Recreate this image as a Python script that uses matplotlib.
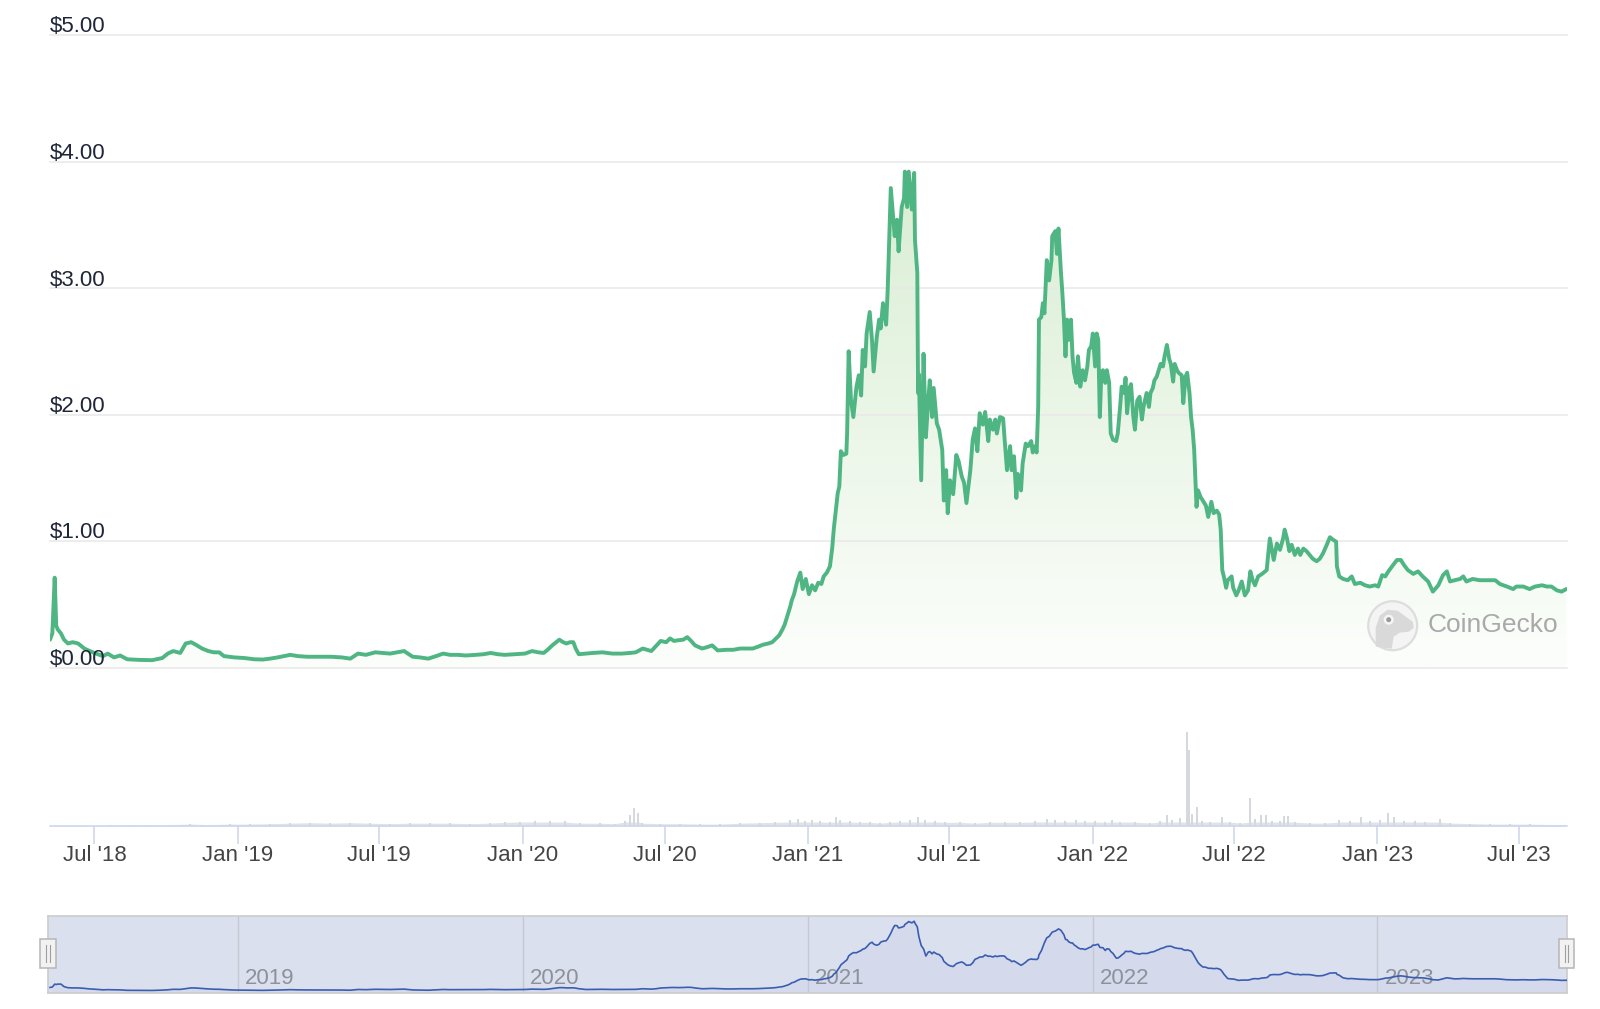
import numpy as np
import pandas as pd
import matplotlib
matplotlib.use("Agg")
import matplotlib.pyplot as plt
import matplotlib.dates as mdates
from matplotlib.patches import Circle, Rectangle, Polygon
from matplotlib.colors import LinearSegmentedColormap
from matplotlib.transforms import Affine2D, blended_transform_factory, offset_copy

plt.rcParams['font.family'] = ['Liberation Sans', 'DejaVu Sans']

# ---------------- data ----------------
start_date = "2018-05-05"
view_end_day = 1945

price_day = [
    0, 3, 6, 8, 10, 14, 18, 23, 29, 36,
    44, 51, 59, 68, 74, 82, 90, 99, 115, 131,
    144, 151, 158, 167, 174, 181, 187, 195, 203, 210,
    217, 223, 236, 249, 262, 273, 282, 292, 308, 318,
    330, 346, 360, 374, 385, 395, 405, 417, 427, 436,
    445, 454, 465, 474, 485, 495, 504, 513, 523, 533,
    546, 556, 565, 574, 583, 596, 609, 618, 626, 633,
    638, 644, 649, 653, 658, 662, 667, 671, 674, 678,
    687, 696, 708, 721, 733, 744, 751, 760, 771, 777,
    783, 790, 795, 800, 805, 812, 817, 822, 827, 836,
    842, 849, 856, 867, 876, 885, 894, 901, 908, 914,
    921, 926, 931, 935, 939, 942, 946, 949, 951, 954,
    958, 962, 965, 969, 973, 977, 981, 985, 989, 992,
    996, 1000, 1003, 1005, 1008, 1010, 1012, 1014, 1017, 1021,
    1022, 1024, 1027, 1030, 1034, 1037, 1040, 1042, 1045, 1047,
    1051, 1054, 1056, 1060, 1063, 1065, 1068, 1072, 1074, 1078,
    1081, 1083, 1086, 1088, 1092, 1095, 1096, 1099, 1101, 1105,
    1108, 1109, 1112, 1113, 1114, 1117, 1120, 1123, 1126, 1128,
    1131, 1133, 1137, 1140, 1144, 1146, 1149, 1151, 1154, 1158,
    1162, 1165, 1169, 1172, 1175, 1180, 1183, 1186, 1189, 1192,
    1196, 1199, 1203, 1205, 1209, 1212, 1214, 1218, 1222, 1224,
    1227, 1231, 1233, 1236, 1239, 1241, 1245, 1247, 1251, 1254,
    1258, 1260, 1263, 1265, 1267, 1268, 1271, 1273, 1275, 1278,
    1281, 1284, 1285, 1289, 1291, 1293, 1296, 1298, 1300, 1302,
    1304, 1306, 1309, 1311, 1313, 1316, 1318, 1321, 1324, 1327,
    1330, 1332, 1335, 1337, 1340, 1342, 1344, 1346, 1348, 1350,
    1353, 1355, 1358, 1360, 1363, 1367, 1369, 1372, 1374, 1377,
    1379, 1381, 1384, 1386, 1389, 1391, 1394, 1397, 1400, 1402,
    1406, 1409, 1411, 1414, 1416, 1419, 1422, 1424, 1427, 1429,
    1432, 1435, 1437, 1440, 1442, 1445, 1447, 1451, 1453, 1456,
    1458, 1461, 1463, 1465, 1467, 1470, 1472, 1475, 1478, 1482,
    1485, 1489, 1492, 1496, 1499, 1501, 1503, 1505, 1508, 1510,
    1515, 1517, 1521, 1524, 1528, 1532, 1536, 1539, 1542, 1545,
    1549, 1554, 1560, 1562, 1564, 1569, 1573, 1577, 1581, 1583,
    1586, 1589, 1592, 1596, 1600, 1603, 1607, 1611, 1615, 1619,
    1624, 1628, 1632, 1637, 1641, 1645, 1649, 1650, 1653, 1658,
    1664, 1669, 1673, 1680, 1686, 1692, 1699, 1703, 1708, 1712,
    1716, 1722, 1727, 1732, 1736, 1741, 1748, 1754, 1760, 1767,
    1773, 1780, 1786, 1791, 1795, 1801, 1808, 1812, 1816, 1824,
    1833, 1842, 1853, 1859, 1868, 1876, 1880, 1889, 1897, 1904,
    1913, 1919, 1925, 1932, 1938, 1944,
]

price_usd = [
    0.22, 0.27, 0.71, 0.33, 0.30, 0.27, 0.22, 0.19, 0.20, 0.19,
    0.15, 0.13, 0.11, 0.09, 0.11, 0.08, 0.095, 0.065, 0.06, 0.058,
    0.075, 0.11, 0.13, 0.115, 0.19, 0.20, 0.18, 0.15, 0.13, 0.12,
    0.12, 0.09, 0.08, 0.075, 0.065, 0.063, 0.07, 0.08, 0.10, 0.09,
    0.085, 0.085, 0.085, 0.08, 0.07, 0.11, 0.10, 0.12, 0.115, 0.11,
    0.12, 0.13, 0.085, 0.08, 0.07, 0.09, 0.11, 0.10, 0.10, 0.095,
    0.10, 0.105, 0.115, 0.105, 0.10, 0.105, 0.11, 0.13, 0.12, 0.115,
    0.14, 0.175, 0.20, 0.22, 0.20, 0.19, 0.20, 0.20, 0.15, 0.105,
    0.11, 0.115, 0.12, 0.11, 0.11, 0.115, 0.12, 0.15, 0.13, 0.17,
    0.21, 0.20, 0.23, 0.21, 0.215, 0.22, 0.24, 0.21, 0.175, 0.15,
    0.16, 0.175, 0.135, 0.14, 0.14, 0.15, 0.15, 0.15, 0.165, 0.18,
    0.19, 0.20, 0.23, 0.255, 0.30, 0.34, 0.42, 0.48, 0.53, 0.58,
    0.68, 0.75, 0.62, 0.70, 0.58, 0.65, 0.61, 0.67, 0.66, 0.72,
    0.75, 0.80, 0.95, 1.10, 1.27, 1.38, 1.43, 1.71, 1.68, 1.69,
    1.85, 2.50, 2.11, 1.98, 2.22, 2.31, 2.15, 2.51, 2.38, 2.64,
    2.81, 2.58, 2.34, 2.61, 2.75, 2.68, 2.88, 2.71, 2.98, 3.79,
    3.56, 3.41, 3.54, 3.29, 3.64, 3.71, 3.92, 3.64, 3.92, 3.62,
    3.91, 3.38, 3.12, 2.17, 2.32, 1.48, 2.48, 1.82, 2.11, 2.27,
    1.98, 2.21, 1.93, 1.88, 1.72, 1.32, 1.56, 1.22, 1.48, 1.37,
    1.68, 1.63, 1.51, 1.46, 1.30, 1.56, 1.80, 1.89, 1.71, 2.01,
    1.92, 2.02, 1.79, 1.96, 1.88, 1.96, 1.85, 1.98, 1.97, 1.80,
    1.56, 1.75, 1.56, 1.67, 1.34, 1.53, 1.40, 1.61, 1.77, 1.75,
    1.79, 1.70, 1.75, 1.70, 2.06, 2.75, 2.77, 2.88, 2.80, 3.22,
    3.06, 3.22, 3.41, 3.45, 3.27, 3.47, 3.14, 2.96, 2.75, 2.46,
    2.75, 2.59, 2.75, 2.46, 2.33, 2.25, 2.46, 2.22, 2.35, 2.27,
    2.38, 2.51, 2.54, 2.64, 2.38, 2.64, 2.59, 1.98, 2.33, 2.35,
    2.25, 2.35, 2.25, 1.85, 1.80, 1.79, 1.85, 2.06, 2.22, 2.17,
    2.29, 2.01, 2.21, 2.24, 1.98, 1.88, 2.11, 2.14, 1.96, 2.06,
    2.17, 2.06, 2.17, 2.21, 2.27, 2.30, 2.36, 2.40, 2.38, 2.46,
    2.55, 2.44, 2.40, 2.26, 2.40, 2.35, 2.33, 2.31, 2.09, 2.30,
    2.33, 2.17, 1.98, 1.88, 1.72, 1.27, 1.40, 1.35, 1.32, 1.28,
    1.19, 1.31, 1.22, 1.24, 1.21, 1.09, 0.77, 0.72, 0.63, 0.69,
    0.72, 0.63, 0.57, 0.61, 0.68, 0.57, 0.61, 0.76, 0.69, 0.65,
    0.72, 0.74, 0.77, 0.90, 1.02, 0.85, 0.98, 0.93, 1.02, 1.09,
    1.02, 0.92, 0.97, 0.89, 0.94, 0.89, 0.94, 0.92, 0.89, 0.86,
    0.84, 0.86, 0.90, 0.97, 1.03, 1.01, 0.995, 0.80, 0.72, 0.70,
    0.69, 0.72, 0.66, 0.67, 0.65, 0.64, 0.65, 0.64, 0.73, 0.72,
    0.76, 0.81, 0.85, 0.85, 0.81, 0.77, 0.74, 0.76, 0.72, 0.68,
    0.60, 0.65, 0.73, 0.76, 0.68, 0.69, 0.70, 0.72, 0.68, 0.70,
    0.69, 0.69, 0.69, 0.66, 0.64, 0.62, 0.64, 0.64, 0.62, 0.64,
    0.65, 0.64, 0.64, 0.61, 0.60, 0.62,
]

volume_day = [
    0, 26, 51, 77, 103, 128, 154, 179, 205, 231,
    256, 282, 308, 333, 359, 385, 410, 436, 462, 487,
    513, 538, 564, 583, 603, 622, 641, 660, 679, 705,
    724, 737, 744, 749, 754, 759, 782, 808, 833, 859,
    885, 910, 930, 949, 959, 968, 977, 987, 1000, 1008,
    1013, 1026, 1038, 1051, 1064, 1077, 1090, 1103, 1113, 1122,
    1135, 1147, 1167, 1186, 1205, 1224, 1244, 1263, 1278, 1289,
    1301, 1315, 1327, 1340, 1353, 1362, 1372, 1391, 1410, 1423,
    1432, 1439, 1449, 1458, 1460, 1464, 1471, 1477, 1487, 1503,
    1513, 1526, 1539, 1545, 1553, 1559, 1567, 1577, 1582, 1587,
    1596, 1615, 1635, 1653, 1667, 1681, 1692, 1705, 1715, 1723,
    1736, 1750, 1763, 1782, 1795, 1821, 1846, 1872, 1897, 1923,
    1942,
]

volume_musd = [
    0.5, 0.5, 0.5, 0.8, 1.4, 1.1, 1.4, 1.9, 1.4, 1.9,
    1.9, 2.3, 2.8, 3.3, 2.8, 3.3, 2.8, 2.3, 2.8, 2.8,
    2.8, 2.3, 2.8, 3.7, 4.2, 4.7, 5.1, 4.7, 2.8, 2.8,
    2.3, 4.7, 11.0, 18.0, 13.0, 2.8, 2.3, 2.3, 1.9, 1.9,
    2.8, 3.3, 3.7, 6.5, 7.5, 4.7, 6.5, 4.7, 3.7, 9.3,
    6.5, 4.7, 3.7, 3.7, 2.8, 3.7, 4.7, 5.6, 9.3, 6.5,
    4.7, 3.7, 3.7, 2.8, 3.7, 3.7, 3.7, 4.7, 7.5, 5.6,
    4.7, 6.5, 4.7, 4.7, 3.7, 6.3, 3.9, 3.9, 2.9, 4.8,
    10.6, 5.8, 7.7, 94.0, 76.0, 12.3, 19.3, 4.8, 3.9, 8.7,
    3.9, 2.9, 28.0, 7.3, 10.6, 10.6, 4.8, 4.8, 9.7, 9.7,
    3.9, 2.9, 2.9, 5.8, 4.8, 8.7, 4.8, 5.8, 13.3, 8.7,
    4.8, 4.8, 3.9, 7.3, 2.9, 2.4, 1.9, 1.9, 1.9, 1.5,
    1.5,
]

y_ticks = [0, 1, 2, 3, 4, 5]
y_tick_labels = ["$0.00", "$1.00", "$2.00", "$3.00", "$4.00", "$5.00"]
x_tick_dates = ["2018-07-01", "2019-01-01", "2019-07-01", "2020-01-01", "2020-07-01",
                "2021-01-01", "2021-07-01", "2022-01-01", "2022-07-01", "2023-01-01",
                "2023-07-01"]
x_tick_labels = ["Jul '18", "Jan '19", "Jul '19", "Jan '20", "Jul '20", "Jan '21",
                 "Jul '21", "Jan '22", "Jul '22", "Jan '23", "Jul '23"]
nav_years = ["2019", "2020", "2021", "2022", "2023"]

assert len(price_day) == len(price_usd)
assert len(volume_day) == len(volume_musd)

# ---------------- figure ----------------
W, H = 1600, 1009
fig = plt.figure(figsize=(W / 100, H / 100), dpi=100)
fig.patch.set_facecolor("white")
pix = Affine2D().scale(1 / W, -1 / H).translate(0, 1) + fig.transFigure


def frac(x0, y0, x1, y1):
    return [x0 / W, 1 - y1 / H, (x1 - x0) / W, (y1 - y0) / H]


t0 = pd.Timestamp(start_date)
p_dates = t0 + pd.to_timedelta(price_day, unit="D")
v_dates = t0 + pd.to_timedelta(volume_day, unit="D")
xmin = t0
xmax = t0 + pd.Timedelta(days=view_end_day)

LINE = "#4fb583"

# ---- price panel ----
ax = fig.add_axes(frac(50, 35, 1567, 667.5))
ax.set_facecolor("none")
for s in ax.spines.values():
    s.set_visible(False)
ax.set_xticks([])
ax.set_yticks([])

poly = ax.fill_between(p_dates, price_usd, 0, color="none", lw=0)
grad = np.linspace(0, 1, 256).reshape(-1, 1)
cmap = LinearSegmentedColormap.from_list("g", ["#fcfefb", "#d0e9c9"])
im = ax.imshow(grad, extent=[mdates.date2num(xmin), mdates.date2num(xmax), 0, 5],
               origin="lower", aspect="auto", cmap=cmap, vmin=0, vmax=1, zorder=1,
               interpolation="bilinear")
im.set_clip_path(poly.get_paths()[0], transform=ax.transData)

for v in y_ticks:
    ax.axhline(v, color="#e8e8e8", lw=1.1, zorder=1.5, clip_on=False)

ax.plot(p_dates, price_usd, color=LINE, lw=2.8, solid_joinstyle="round",
        solid_capstyle="round", zorder=3)
ax.set_xlim(xmin, xmax)
ax.set_ylim(0, 5)

ytrans = offset_copy(blended_transform_factory(ax.transAxes, ax.transData),
                     fig=fig, x=0, y=2.5, units="dots")
for v, lab in zip(y_ticks, y_tick_labels):
    ax.text(0, v, lab, transform=ytrans, ha="left", va="baseline",
            fontsize=16, color="#1f2637", zorder=5)

# watermark
cx, cy = 1392.7, 625.7
fig.patches.append(Circle((cx, cy), 24.5, transform=pix, facecolor="#f4f4f4",
                          edgecolor="#dddddd", lw=1.6, zorder=4))
head = [(-17, 21), (-17, 2), (-13, -10), (-5, -16), (5, -15), (13, -9), (20, -4),
        (21, 2), (16, 6), (7, 7), (1, 11), (-1, 23)]
fig.patches.append(Polygon([(cx + a, cy + b) for a, b in head], closed=True,
                           transform=pix, facecolor="#d9d9d9", edgecolor="none", zorder=4))
fig.patches.append(Circle((cx - 4, cy - 6), 5, transform=pix, facecolor="#f6f6f6",
                          edgecolor="none", zorder=4))
fig.patches.append(Circle((cx - 4, cy - 6), 2.5, transform=pix, facecolor="#9a9a9a",
                          edgecolor="none", zorder=4))
fig.text(1428 / W, 1 - 625 / H, "CoinGecko", fontsize=19, color="#a9a9a9",
         ha="left", va="center")

# ---- volume panel ----
axv = fig.add_axes(frac(50, 680, 1567, 826))
axv.set_facecolor("none")
vol = np.array(volume_musd)
axv.fill_between(v_dates, np.minimum(vol, 4.0), 0, color="#e1e3e7", lw=0)
axv.bar(v_dates, vol, width=2.5, color="#d5d8de", lw=0)
axv.set_xlim(xmin, xmax)
axv.set_ylim(0, 146)
for k in ("top", "left", "right"):
    axv.spines[k].set_visible(False)
axv.spines["bottom"].set_color("#ccd6eb")
axv.spines["bottom"].set_linewidth(1.1)
axv.set_yticks([])
axv.set_xticks(pd.to_datetime(x_tick_dates))
axv.set_xticklabels(x_tick_labels)
axv.tick_params(axis="x", length=13, width=1.1, color="#ccd6eb", pad=1,
                labelsize=16, labelcolor="#444444")

# ---- navigator ----
axn = fig.add_axes(frac(48, 916, 1567, 992.5))
axn.set_facecolor("#dbe0ee")
nav = pd.Series(price_usd, index=p_dates).rolling("9D").mean()
axn.fill_between(nav.index, nav.values, -1, color="#3f5fb0", alpha=0.04, lw=0)
axn.plot(nav.index, nav.values, color="#3a5db0", lw=1.2, zorder=3)
axn.set_xlim(t0 - pd.Timedelta(days=2.6), xmax)
axn.set_ylim(-0.054, 4.10)
axn.set_xticks([])
axn.set_yticks([])
for s in axn.spines.values():
    s.set_color("#cccccc")
    s.set_linewidth(1.2)
ltrans = offset_copy(blended_transform_factory(axn.transData, axn.transAxes),
                     fig=fig, x=7, y=0, units="dots")
for yr in nav_years:
    d = pd.Timestamp(f"{yr}-01-01")
    axn.axvline(d, color="#c4c8d2", lw=1.0, zorder=1)
    axn.text(d, 0.107, yr, transform=ltrans, ha="left", va="baseline",
             fontsize=16, color="#8e9199", zorder=2)

# handles
for hx in (40.4, 1558.6):
    fig.patches.append(Rectangle((hx, 939), 15.5, 29, transform=pix,
                                 facecolor="#f2f2f2", edgecolor="#b5b5b5", lw=1.1, zorder=5))
    for dx in (6.0, 9.5):
        fig.lines.append(plt.Line2D([hx + dx, hx + dx], [945, 962], transform=pix,
                                    color="#9e9e9e", lw=0.8, zorder=6))

fig.savefig("out.png", dpi=100, facecolor="white")
